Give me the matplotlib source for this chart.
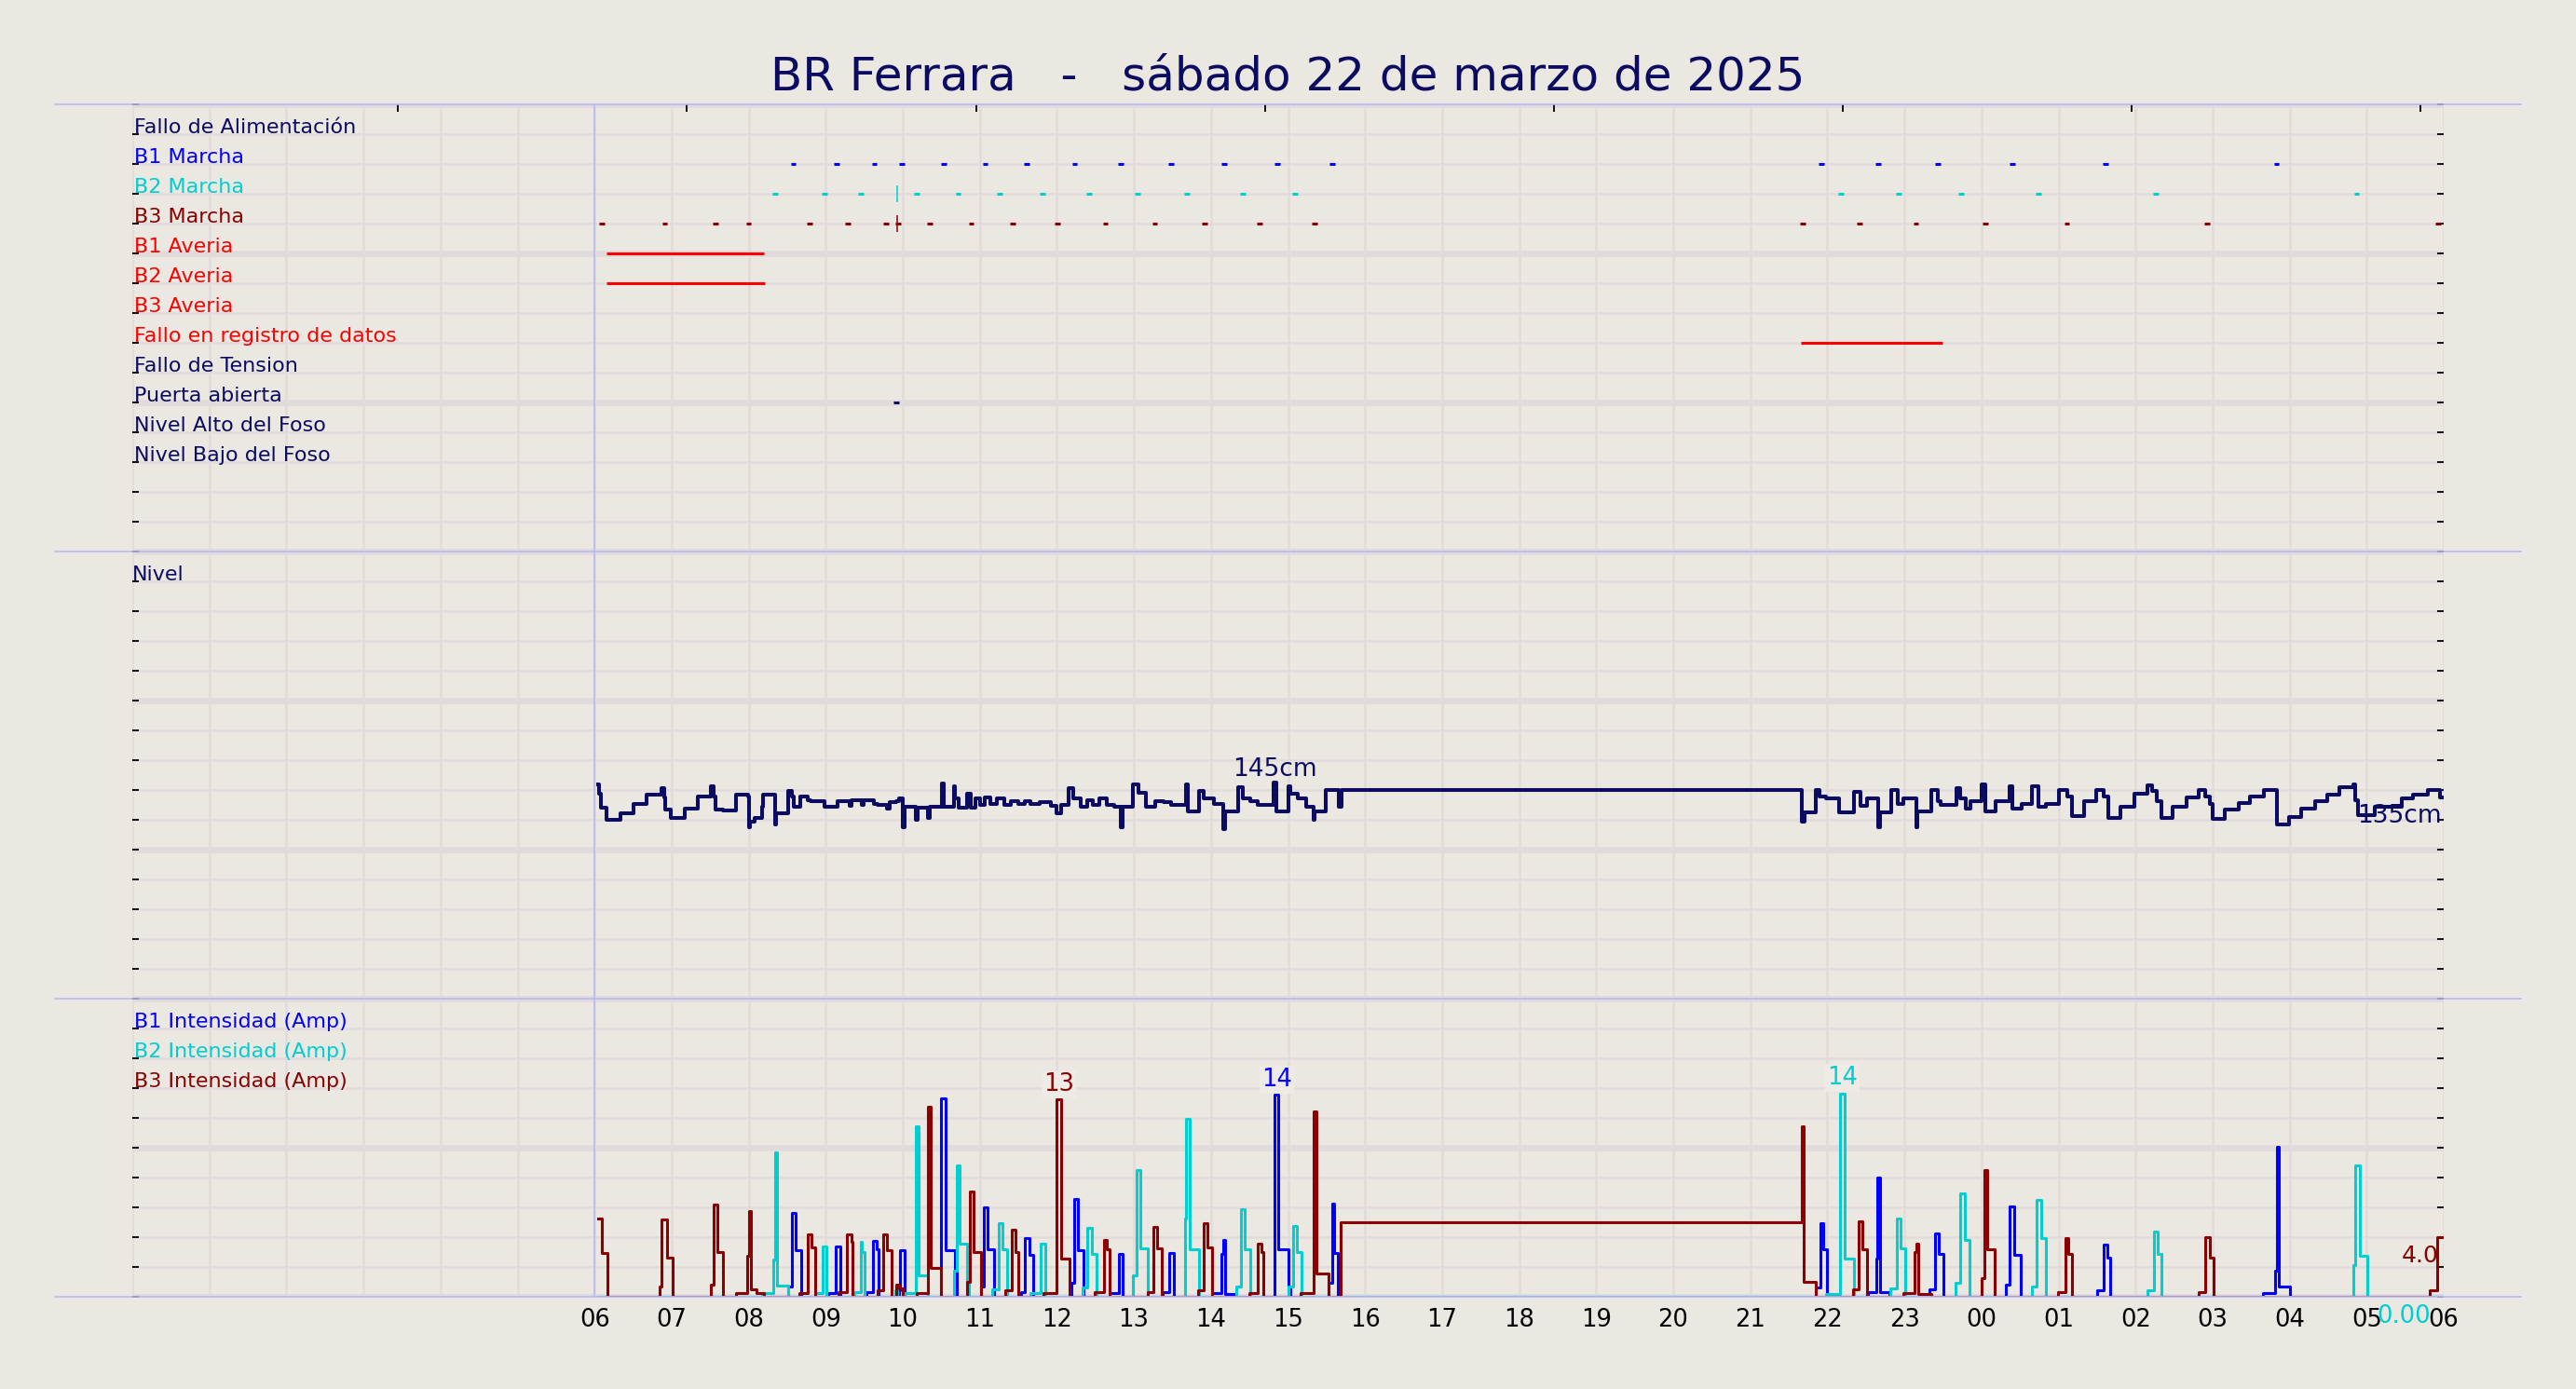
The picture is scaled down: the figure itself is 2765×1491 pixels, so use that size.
import matplotlib
matplotlib.use('Agg')
import matplotlib.pyplot as plt

# colours
BG = '#ebe7e1'
GRID = '#e1dcdb'
SEP = '#b8b8f2'
NAVY = '#0b0b62'
C_B1 = '#0000ff'
C_B2 = '#00ced1'
C_B3 = '#8b0000'
C_RED = '#ff0000'

title = 'BR Ferrara   -   sábado 22 de marzo de 2025'

# x axis: hours from 00:00 of the day to 06:00 of the next day
hour_ticks = list(range(6, 31))
hour_labels = ['%02d' % (h % 24) for h in hour_ticks]
top_ticks = [3.45 + 3.75 * k for k in range(8)]

# status rows (top panel)
status_rows = ['Fallo de Alimentación', 'B1 Marcha', 'B2 Marcha', 'B3 Marcha',
               'B1 Averia', 'B2 Averia', 'B3 Averia', 'Fallo en registro de datos',
               'Fallo de Tension', 'Puerta abierta', 'Nivel Alto del Foso',
               'Nivel Bajo del Foso']
status_colors = [NAVY, C_B1, C_B2, C_B3, C_RED, C_RED, C_RED, C_RED,
                 NAVY, NAVY, NAVY, NAVY]

b1_marcha = [8.58, 9.14, 9.63, 9.99, 10.53, 11.07, 11.61, 12.23, 12.83, 13.48,
             14.17, 14.86, 15.57, 21.92, 22.66, 23.43, 24.40, 25.61, 27.83]
b2_marcha = [8.34, 8.98, 9.46, 10.18, 10.72, 11.26, 11.81, 12.42, 13.05, 13.69,
             14.41, 15.09, 22.18, 22.93, 23.74, 24.74, 26.26, 28.87]
b3_marcha = [6.09, 6.91, 7.57, 8.00, 8.79, 9.29, 9.78, 9.94, 10.35, 10.89, 11.43,
             12.01, 12.63, 13.27, 13.92, 14.63, 15.34, 21.68, 22.42, 23.15, 24.05,
             25.11, 26.93, 29.93]
glitch_times = [9.93]
puerta_abierta = [9.92]
b1_averia = [(6.16, 8.20)]
b2_averia = [(6.16, 8.21)]
fallo_registro = [(21.66, 23.50)]

# level (cm), step values
level = [
    (6.05, 143.8), (6.06, 137.3), (6.08, 128.2), (6.15, 119.7), (6.34, 124.3), (6.51, 130.5),
    (6.67, 136.9), (6.87, 141.0), (6.91, 135.3), (6.92, 126.6), (6.99, 121.3), (7.17, 127.3),
    (7.34, 135.7), (7.51, 142.4), (7.55, 135.7), (7.57, 127.0), (7.67, 126.1), (7.84, 136.9),
    (7.99, 135.7), (8.01, 115.1), (8.02, 118.5), (8.08, 121.3), (8.17, 128.9), (8.19, 136.9),
    (8.34, 116.7), (8.36, 124.3), (8.51, 139.6), (8.56, 135.7), (8.59, 128.9), (8.67, 135.7),
    (8.77, 133.4), (8.80, 132.8), (8.98, 128.9), (9.15, 132.3), (9.31, 129.5), (9.33, 133.4),
    (9.47, 130.0), (9.49, 133.4), (9.63, 130.5), (9.67, 130.0), (9.79, 127.7), (9.83, 131.8),
    (9.91, 132.8), (9.95, 134.1), (10.00, 115.1), (10.03, 128.9), (10.17, 119.7), (10.19, 128.2),
    (10.33, 121.3), (10.35, 128.9), (10.51, 144.6), (10.53, 128.9), (10.66, 142.6), (10.68, 134.6),
    (10.72, 128.2), (10.84, 137.3), (10.88, 128.2), (10.94, 134.6), (11.00, 130.0), (11.06, 135.3),
    (11.14, 130.5), (11.22, 134.1), (11.32, 130.0), (11.40, 132.8), (11.50, 130.5), (11.58, 132.3),
    (11.66, 130.5), (11.78, 131.8), (11.92, 129.5), (11.99, 124.3), (12.05, 130.0), (12.15, 141.0),
    (12.21, 134.6), (12.31, 128.9), (12.39, 133.4), (12.47, 130.0), (12.55, 134.1), (12.65, 130.0),
    (12.75, 128.9), (12.83, 115.1), (12.85, 128.9), (12.99, 143.8), (13.06, 138.0), (13.16, 128.9),
    (13.28, 132.8), (13.38, 131.8), (13.48, 130.0), (13.67, 143.8), (13.70, 125.4), (13.84, 139.2),
    (13.90, 134.1), (14.04, 130.5), (14.16, 114.0), (14.18, 125.4), (14.35, 141.9), (14.41, 134.6),
    (14.51, 132.3), (14.61, 130.0), (14.81, 145.2), (14.85, 125.4), (15.01, 142.6), (15.03, 137.3),
    (15.13, 134.6), (15.23, 128.9), (15.33, 119.7), (15.35, 125.4), (15.49, 140.3), (15.66, 128.9),
    (15.70, 140.3), (21.67, 118.5), (21.70, 125.0), (21.85, 140.3), (21.90, 135.7), (21.98, 134.6),
    (22.15, 125.0), (22.35, 138.7), (22.43, 129.5), (22.51, 134.1), (22.66, 115.1), (22.68, 125.0),
    (22.83, 140.3), (22.91, 130.5), (22.99, 134.6), (23.15, 115.1), (23.17, 125.4), (23.35, 140.3),
    (23.43, 132.3), (23.47, 130.0), (23.68, 141.5), (23.72, 134.6), (23.80, 127.7), (23.86, 132.8),
    (24.00, 143.8), (24.05, 125.4), (24.18, 132.3), (24.36, 142.6), (24.40, 127.7), (24.52, 130.5),
    (24.66, 142.6), (24.74, 128.9), (24.84, 130.5), (25.01, 140.3), (25.11, 135.7), (25.17, 122.7),
    (25.33, 132.8), (25.49, 140.3), (25.59, 135.7), (25.65, 121.3), (25.81, 128.9), (25.99, 137.3),
    (26.15, 143.3), (26.21, 139.2), (26.28, 132.3), (26.34, 121.3), (26.48, 128.9), (26.66, 135.0),
    (26.82, 140.3), (26.90, 135.7), (26.96, 130.5), (27.00, 120.8), (27.16, 126.6), (27.34, 131.1),
    (27.48, 135.7), (27.67, 140.3), (27.83, 116.7), (27.99, 122.0), (28.15, 127.7), (28.33, 132.3),
    (28.49, 136.9), (28.65, 141.9), (28.83, 143.8), (28.85, 133.4), (28.89, 123.1), (29.10, 128.9),
    (29.45, 134.1), (29.60, 136.9), (29.80, 140.3), (29.95, 135.0), (30.00, 135.0),
]

# pump currents (Amp), step values
b1_amp = [
    (6.05, 0), (8.51, 0.69), (8.56, 5.62), (8.61, 3.10), (8.68, 0), (9.03, 0.27), (9.13, 3.37),
    (9.19, 0), (9.53, 0.34), (9.61, 3.78), (9.66, 3.21), (9.69, 0), (9.95, 0.46), (9.96, 3.10),
    (10.02, 0), (10.50, 13.29), (10.56, 3.10), (10.68, 1.84), (10.70, 0), (11.02, 0.69),
    (11.05, 6.01), (11.10, 3.17), (11.18, 0), (11.54, 0.34), (11.59, 3.94), (11.65, 2.82),
    (11.69, 0), (12.19, 0.92), (12.22, 6.58), (12.27, 3.10), (12.35, 0), (12.69, 0.27),
    (12.80, 2.87), (12.85, 0), (13.37, 0.34), (13.46, 2.94), (13.52, 0), (14.02, 0.27),
    (14.14, 2.87), (14.16, 3.83), (14.18, 0.16), (14.33, 0), (14.83, 13.55), (14.87, 3.21),
    (15.01, 0.69), (15.03, 0), (15.53, 0.92), (15.57, 6.24), (15.60, 2.94), (15.65, 0),
    (21.85, 0.64), (21.91, 4.93), (21.95, 3.17), (22.00, 0), (22.53, 0.34), (22.63, 2.57),
    (22.65, 8.02), (22.68, 0.34), (22.81, 0), (23.33, 0.51), (23.40, 4.24), (23.45, 2.87),
    (23.51, 0), (24.32, 0.80), (24.37, 6.08), (24.43, 2.82), (24.51, 0), (25.50, 0.46),
    (25.59, 3.51), (25.64, 2.64), (25.67, 0), (27.66, 0.23), (27.81, 1.72), (27.83, 10.08),
    (27.86, 0.69), (28.01, 0), (30.00, 0),
]
b2_amp = [
    (6.05, 0), (8.18, 0.27), (8.32, 2.52), (8.34, 9.67), (8.37, 0.74), (8.51, 0), (8.86, 0.23),
    (8.96, 3.37), (9.01, 0), (9.37, 0.34), (9.45, 3.67), (9.47, 2.98), (9.51, 0), (9.90, 0.46),
    (9.93, 0), (10.03, 0.27), (10.17, 11.46), (10.20, 1.45), (10.33, 0), (10.66, 1.72),
    (10.70, 8.82), (10.74, 3.55), (10.84, 0.92), (10.86, 0), (11.16, 0.53), (11.24, 4.93),
    (11.29, 3.21), (11.35, 0), (11.66, 0.27), (11.79, 3.55), (11.85, 0), (12.33, 0.64),
    (12.40, 4.63), (12.46, 2.87), (12.51, 0), (12.99, 1.45), (13.04, 8.48), (13.08, 3.26),
    (13.18, 0), (13.66, 5.27), (13.68, 11.92), (13.73, 3.17), (13.84, 0), (14.33, 0.69),
    (14.39, 5.85), (14.44, 3.21), (14.51, 0), (15.00, 0.69), (15.07, 4.77), (15.11, 3.03),
    (15.17, 0), (21.98, 0.18), (22.16, 13.64), (22.22, 2.57), (22.35, 0), (22.82, 0.57),
    (22.90, 5.23), (22.95, 3.26), (23.01, 0), (23.66, 0.92), (23.72, 6.95), (23.78, 3.83),
    (23.85, 0), (24.66, 0.69), (24.72, 6.49), (24.78, 3.94), (24.84, 0), (26.15, 0.46),
    (26.24, 4.40), (26.29, 2.87), (26.34, 0), (28.83, 2.11), (28.85, 8.82), (28.91, 2.75),
    (29.01, 0), (30.00, 0),
]
b3_amp = [
    (6.05, 5.27), (6.09, 2.94), (6.17, 0), (6.84, 0.69), (6.87, 5.16), (6.94, 2.64), (7.01, 0),
    (7.51, 0.80), (7.55, 6.19), (7.59, 2.98), (7.67, 0), (7.84, 0.23), (7.98, 2.75), (8.00, 5.78),
    (8.03, 0.51), (8.10, 0.23), (8.20, 0), (8.66, 0.27), (8.77, 4.17), (8.81, 3.33), (8.86, 0),
    (9.17, 0.34), (9.27, 4.17), (9.33, 3.67), (9.35, 0), (9.67, 0.46), (9.75, 4.17), (9.80, 3.10),
    (9.85, 0), (9.92, 0.80), (9.95, 0.57), (10.00, 0), (10.18, 0.23), (10.33, 12.77),
    (10.36, 1.95), (10.49, 0), (10.84, 0.97), (10.87, 7.06), (10.92, 2.98), (11.02, 0),
    (11.33, 0.46), (11.41, 4.47), (11.46, 3.03), (11.50, 0), (11.83, 0.23), (12.00, 13.23),
    (12.05, 2.57), (12.17, 0), (12.49, 0.34), (12.61, 3.83), (12.65, 3.21), (12.69, 0),
    (13.18, 0.34), (13.25, 4.70), (13.30, 3.26), (13.36, 0), (13.83, 0.46), (13.90, 4.93),
    (13.95, 3.33), (14.01, 0), (14.50, 0.27), (14.61, 3.55), (14.65, 3.03), (14.68, 0),
    (15.16, 0.23), (15.33, 12.42), (15.37, 1.56), (15.52, 0), (15.68, 5.00), (21.67, 11.41),
    (21.69, 1.03), (21.85, 0), (22.33, 0.51), (22.41, 5.04), (22.45, 3.17), (22.51, 0),
    (22.99, 0.27), (23.13, 3.03), (23.15, 3.55), (23.18, 0.18), (23.35, 0), (24.00, 1.26),
    (24.04, 8.53), (24.07, 3.21), (24.17, 0), (24.99, 0.34), (25.09, 3.94), (25.13, 2.87),
    (25.17, 0), (26.82, 0.34), (26.91, 4.01), (26.96, 2.64), (27.01, 0), (29.82, 0.41),
    (29.91, 4.01), (30.00, 4.01),
]

W, H = 2765, 1491
fig = plt.figure(figsize=(W / 100, H / 100), dpi=100, facecolor=BG)
ax = fig.add_axes([142 / W, 99 / H, 2481 / W, 1280 / H])
ax.set_facecolor(BG)
ax.set_xlim(0, 30)
ax.set_ylim(0, 40)
for s in ax.spines.values():
    s.set_visible(False)

# grid
for h in range(31):
    ax.axvline(h, color=GRID, lw=1.8, zorder=0)
for y in range(41):
    ax.axhline(y, color=GRID, lw=4.8 if y % 5 == 0 else 1.8, zorder=0)

# panel separators
for y in (0, 10, 25, 40):
    ax.plot([-1, 31], [y, y], color=SEP, lw=1.2, clip_on=False, zorder=4)
ax.plot([6, 6], [0, 40], color=SEP, lw=1.2, zorder=1)

# ticks
ax.set_xticks(hour_ticks)
ax.set_xticklabels(hour_labels, fontsize=18.5)
ax.tick_params(axis='x', which='major', length=0, pad=9)
ax.set_xticks(top_ticks, minor=True)
ax.tick_params(axis='x', which='minor', bottom=False, top=True, direction='in',
               length=6, width=1.3, color='black')
ax.set_yticks(range(41))
ax.set_yticklabels([])
ax.tick_params(axis='y', left=True, right=True, direction='in', length=5, width=1.3)

# row labels
for i, (name, col) in enumerate(zip(status_rows, status_colors)):
    ax.text(0.02, 39 - i + 0.04, name, color=col, fontsize=16, ha='left', va='baseline')
ax.text(0.0, 24.04, 'Nivel', color=NAVY, fontsize=16, ha='left', va='baseline')
for y, name, col in [(9, 'B1 Intensidad (Amp)', C_B1), (8, 'B2 Intensidad (Amp)', C_B2),
                     (7, 'B3 Intensidad (Amp)', C_B3)]:
    ax.text(0.02, y + 0.04, name, color=col, fontsize=16, ha='left', va='baseline')

# status marks
mark = 0.035
for times, row, col in [(b1_marcha, 38, C_B1), (b2_marcha, 37, C_B2), (b3_marcha, 36, C_B3),
                        (puerta_abierta, 30, NAVY)]:
    ax.hlines([row] * len(times), [t - mark for t in times], [t + mark for t in times],
              colors=col, lw=2.2, zorder=3)
for row, col in [(37, C_B2), (36, C_B3)]:
    ax.vlines(glitch_times, row - 0.27, row + 0.27, colors=col, lw=1.1, zorder=3)
for spans, row in [(b1_averia, 35), (b2_averia, 34), (fallo_registro, 32)]:
    for a, b in spans:
        ax.plot([a, b], [row, row], color=C_RED, lw=2.2, solid_capstyle='butt', zorder=3)

# level
lt = [p[0] for p in level]
lv = [p[1] for p in level]
ax.plot(lt, [10 + v / 20 for v in lv], drawstyle='steps-post', color=NAVY, lw=2.9, zorder=3)
imax = lv.index(max(lv))
ax.text(lt[imax] + 0.02, 17.47, '%.0fcm' % lv[imax], color=NAVY, fontsize=19,
        ha='center', va='baseline', zorder=5)
ax.text(29.97, 15.9, '%.0fcm' % lv[-1], color=NAVY, fontsize=19, ha='right',
        va='baseline', zorder=5)

# currents
for series, col in [(b1_amp, C_B1), (b2_amp, C_B2), (b3_amp, C_B3)]:
    t = [p[0] for p in series]
    a = [p[1] for p in series]
    ax.plot(t, [v / 2 for v in a], drawstyle='steps-post', color=col, lw=2.2, zorder=3)
    i = a.index(max(a))
    ax.text((t[i] + t[i + 1]) / 2, a[i] / 2 + 0.3, '%.0f' % a[i], color=col, fontsize=18.5,
            ha='center', va='baseline', zorder=5,
            bbox=dict(facecolor='#eeeae6', edgecolor='none', pad=1.5))

ax.text(29.93, 1.16, '%.1f' % b3_amp[-1][1], color=C_B3, fontsize=18, ha='right',
        va='baseline', zorder=5)
ax.text(29.83, -0.25, '%.2f' % b2_amp[-1][1], color=C_B2, fontsize=18.5, ha='right',
        va='top', zorder=5, clip_on=False)

fig.text(0.5, 1 - 96.7 / H, title, color=NAVY, fontsize=36, ha='center', va='baseline')

fig.savefig('out.png', dpi=100, facecolor=BG)
